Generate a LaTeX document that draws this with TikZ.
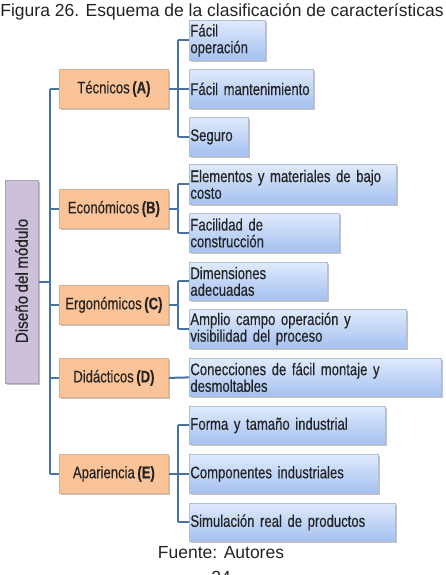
\documentclass[tikz,border=0pt]{standalone}
\usepackage{fontspec}
\setmainfont[FakeStretch=0.78, WordSpace=0.7, FakeBold=0.3]{Liberation Sans}
\newfontfamily\rootf[FakeStretch=0.88, WordSpace=0.8, FakeBold=0.3]{Liberation Sans}
\newfontfamily\arialf{Liberation Sans}
\usetikzlibrary{shadows}
\definecolor{linec}{RGB}{72,114,162}
\definecolor{leaftop}{RGB}{224,234,252}
\definecolor{leafbot}{RGB}{164,192,240}
\definecolor{leafdraw}{RGB}{176,190,215}
\definecolor{catfill}{RGB}{250,196,152}
\definecolor{catdraw}{RGB}{222,178,140}
\definecolor{rootfill}{RGB}{204,192,218}
\definecolor{rootdraw}{RGB}{170,160,185}
\definecolor{txt}{RGB}{35,35,35}
\tikzset{
  leaf/.style={draw=leafdraw, line width=0.8pt, top color=leaftop, bottom color=leafbot,
    drop shadow={shadow xshift=1.5pt, shadow yshift=-1.5pt, fill=black!40, opacity=0.6},
    anchor=north west, align=left, inner sep=1pt, text=txt, font=\fontsize{16.8}{16.7}\selectfont},
  cat/.style={draw=catdraw, line width=0.8pt, fill=catfill,
    drop shadow={shadow xshift=1.5pt, shadow yshift=-1.5pt, fill=black!40, opacity=0.6},
    anchor=north west, align=center, text=txt, font=\fontsize{16.8}{17}\selectfont},
  conn/.style={draw=linec, line width=2pt},
  capt/.style={text=txt, font=\arialf\fontsize{17.5}{19}\selectfont},
}
\begin{document}
\begin{tikzpicture}[x=1pt,y=-1pt]
\useasboundingbox (0,0) rectangle (446,575);
\begin{scope}
\clip (0,0) rectangle (446,575);
% title
\node[capt] (title) at (222,12) {Figura 26. Esquema de la clasificación de características};
\node[capt] (fuente) at (221,553) {Fuente: Autores};
\node[capt, anchor=north] (pag) at (221,568) {24};

% root
\node[draw=rootdraw, line width=0.8pt, fill=rootfill,
  drop shadow={shadow xshift=1.5pt, shadow yshift=-1.5pt, fill=black!40, opacity=0.6},
  minimum width=33pt, minimum height=203pt, anchor=north west, inner sep=0pt] (root) at (5,180) {};
\node[rotate=90, text=txt, font=\rootf\fontsize{17.3}{18}\selectfont] (roottxt) at (21.5,281) {Diseño del módulo};

% categories
\foreach \n/\y/\t in {A/69/Técnicos, B/189/Económicos, C/285/Ergonómicos, D/358/Didácticos, E/454/Apariencia}{
  \node[cat, minimum width=109pt, minimum height=39pt] (\n) at (59,\y) {\t\ \textbf{(\n)}};
}

% leaves
\node[leaf, minimum width=76pt, minimum height=40pt, text width=74pt] (a1) at (189,20) {Fácil\\operación};
\node[leaf, minimum width=124pt, minimum height=39pt, text width=122pt] (a2) at (189,69) {Fácil mantenimiento};
\node[leaf, minimum width=59pt, minimum height=39pt, text width=57pt] (a3) at (189,117) {Seguro};
\node[leaf, minimum width=207pt, minimum height=40pt, text width=205pt] (b1) at (189,164) {Elementos y materiales de bajo\\costo};
\node[leaf, minimum width=150pt, minimum height=39pt, text width=148pt] (b2) at (189,213) {Facilidad de\\construcción};
\node[leaf, minimum width=138pt, minimum height=38pt, text width=136pt] (c1) at (189,262) {Dimensiones\\adecuadas};
\node[leaf, minimum width=217pt, minimum height=39pt, text width=215pt] (c2) at (189,309) {Amplio campo operación y\\visibilidad del proceso};
\node[leaf, minimum width=252pt, minimum height=38pt, text width=250pt] (d1) at (189,358) {Conecciones de fácil montaje y\\desmoltables};
\node[leaf, minimum width=196pt, minimum height=38pt, text width=194pt] (e1) at (189,406) {Forma y tamaño industrial};
\node[leaf, minimum width=189pt, minimum height=39pt, text width=187pt] (e2) at (189,454) {Componentes industriales};
\node[leaf, minimum width=206pt, minimum height=38pt, text width=204pt] (e3) at (189,503) {Simulación real de productos};

% connectors
\coordinate (trunk) at (50,0);
\draw[conn] (root.east) -- (root.east -| trunk);
\draw[conn] (A.west -| trunk) -- (E.west -| trunk);
\foreach \n in {A,B,C,D,E}{\draw[conn] (\n.west -| trunk) -- (\n.west);}
\coordinate (br) at (178,0);
\foreach \c/\f/\l in {A/a1/a3, B/b1/b2, C/c1/c2, E/e1/e3}{
  \draw[conn] (\c.east) -- (\c.east -| br);
  \draw[conn] (\f.west -| br) -- (\l.west -| br);
}
\foreach \x in {a1,a2,a3,b1,b2,c1,c2,e1,e2,e3}{\draw[conn] (\x.west -| br) -- (\x.west);}
\draw[conn] (D.east) -- (d1.west);
\end{scope}
\end{tikzpicture}
\end{document}
